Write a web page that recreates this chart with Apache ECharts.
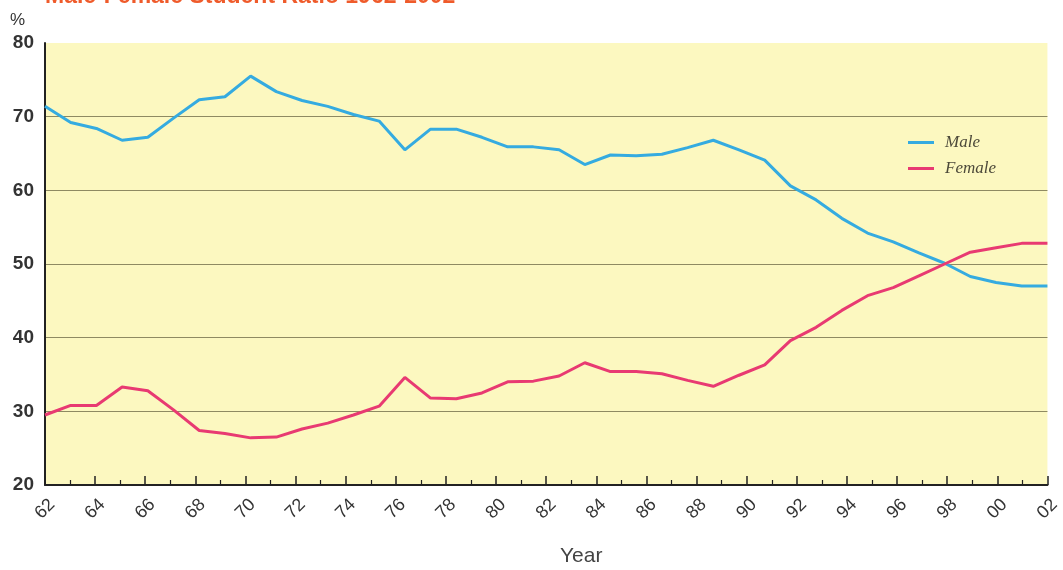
<!DOCTYPE html>
<html>
<head>
<meta charset="utf-8">
<script src="https://cdn.jsdelivr.net/npm/echarts@6/dist/echarts.min.js"></script>
<style>
html,body{margin:0;padding:0;background:#ffffff;}
#chart{width:1063px;height:570px;}
</style>
</head>
<body>
<div id="chart"></div>
<script>
// 40 evenly spaced observations spanning 1962 to 2002 (academic years)
var periods = ['1962','1963','1964','1965','1966','1967','1968','1969','1970','1971',
               '1972','1973','1974','1975','1976','1977','1978','1979','1980','1981',
               '1982','1983','1984','1985','1986','1987','1988','1989','1990','1991',
               '1992','1993','1994','1995','1996','1997','1998','1999','2000','2001'];
var maleValues = [71.4,69.2,68.4,66.8,67.2,69.8,72.3,72.7,75.5,73.4,
                  72.2,71.4,70.3,69.4,65.5,68.3,68.3,67.2,65.9,65.9,
                  65.5,63.5,64.8,64.7,64.9,65.8,66.8,65.5,64.1,60.6,
                  58.7,56.2,54.2,53.0,51.5,50.1,48.3,47.5,47.0,47.0];
var femaleValues = [29.5,30.8,30.8,33.3,32.8,30.2,27.4,27.0,26.4,26.5,
                    27.6,28.4,29.5,30.7,34.6,31.8,31.7,32.5,34.0,34.1,
                    34.8,36.6,35.4,35.4,35.1,34.2,33.4,34.9,36.3,39.6,
                    41.4,43.7,45.7,46.8,48.4,50.0,51.6,52.2,52.8,52.8];
var yearAxisMin = 1962, yearAxisMax = 2002;
var yTicks = {min: 20, max: 80, interval: 10};
var seriesNames = ['Male', 'Female'];
var titleText = 'Male-Female Student Ratio 1962-2002';

var chart = echarts.init(document.getElementById('chart'));
chart.setOption({
  animation: false,
  backgroundColor: '#ffffff',
  title: {
    text: titleText,
    left: 40,
    top: -20,
    textStyle: {color: '#ef5b2b', fontSize: 23, fontWeight: 'bold', fontFamily: 'Liberation Sans, Arial, sans-serif'}
  },
  graphic: [
    {type: 'text', left: 10, top: 12, style: {text: '%', fill: '#333', font: '17px Liberation Sans, Arial, sans-serif'}},
    {type: 'text', left: 560, top: 546, style: {text: 'Year', fill: '#444', font: '21px Liberation Sans, Arial, sans-serif'}}
  ],
  legend: {
    orient: 'vertical',
    left: 903,
    top: 129,
    itemGap: 9,
    itemWidth: 26,
    itemHeight: 3,
    icon: 'rect',
    data: seriesNames,
    textStyle: {fontFamily: 'Liberation Serif, Times New Roman, serif', fontStyle: 'italic', fontSize: 17, color: '#4d4a3a', padding: [0,0,0,6]}
  },
  grid: {
    left: 45, right: 15, top: 43, bottom: 85,
    show: true, backgroundColor: '#fcf8c0', borderWidth: 0
  },
  xAxis: [
    {
      type: 'value',
      min: yearAxisMin, max: yearAxisMax, interval: 2,
      axisLine: {show: true, lineStyle: {color: '#222', width: 2}},
      axisTick: {show: true, inside: true, length: 9, lineStyle: {color: '#222', width: 1.5}},
      minorTick: {show: true, splitNumber: 2, length: 5, lineStyle: {color: '#222', width: 1.2}},
      splitLine: {show: false},
      axisLabel: {
        rotate: 45, margin: 24, color: '#333', fontSize: 18,
        fontFamily: 'Liberation Sans, Arial, sans-serif',
        align: 'center', verticalAlign: 'middle',
        formatter: function (v) { return String(v).slice(2); }
      }
    },
    {
      type: 'category',
      data: periods,
      boundaryGap: false,
      show: false,
      position: 'bottom'
    }
  ],
  yAxis: {
    type: 'value',
    min: yTicks.min, max: yTicks.max, interval: yTicks.interval,
    axisLine: {show: true, lineStyle: {color: '#222', width: 2}},
    axisTick: {show: false},
    splitLine: {show: true, showMaxLine: false, lineStyle: {color: '#8e8a62', width: 1.2}},
    axisLabel: {color: '#333', fontSize: 19, fontWeight: 'bold', margin: 11, fontFamily: 'Liberation Sans, Arial, sans-serif'}
  },
  series: [
    {
      name: seriesNames[0], type: 'line', xAxisIndex: 1,
      data: maleValues, showSymbol: false, symbol: 'none',
      lineStyle: {color: '#35abe0', width: 3}, itemStyle: {color: '#35abe0'}
    },
    {
      name: seriesNames[1], type: 'line', xAxisIndex: 1,
      data: femaleValues, showSymbol: false, symbol: 'none',
      lineStyle: {color: '#e83a72', width: 3}, itemStyle: {color: '#e83a72'}
    }
  ]
});
</script>
</body>
</html>
